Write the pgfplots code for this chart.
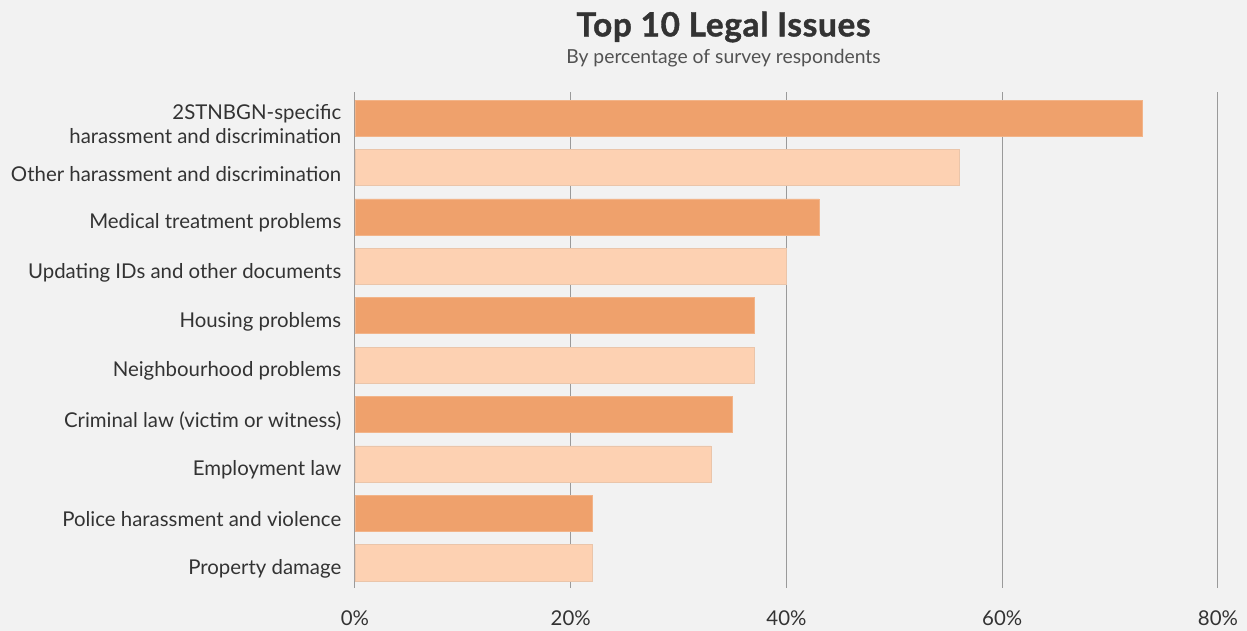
\documentclass[border=0pt]{standalone}
\usepackage{fontspec}
\setmainfont{Lato}
\newfontfamily\titlefont{Lato}[BoldFeatures={FakeBold=1.2}, LetterSpace=2]
\usepackage{pgfplots}
\pgfplotsset{compat=1.18}
\definecolor{bg}{HTML}{F2F2F2}
\definecolor{darkbar}{HTML}{EFA16C}
\definecolor{lightbar}{HTML}{FDD1B2}
\definecolor{txt}{HTML}{333333}
\definecolor{gridc}{HTML}{9A9A9A}
\newlength\px
\setlength\px{0.75pt}
\begin{document}
\begin{tikzpicture}
\fill[bg] (-355\px,-43\px) rectangle (892\px,588\px);
\begin{axis}[
  at={(0,0)}, anchor=south west,
  scale only axis,
  width=863\px, height=496\px,
  xmin=0, xmax=80,
  ymin=-0.53, ymax=9.51,
  y dir=reverse,
  axis line style={draw=none},
  xtick={0,20,40,60,80},
  xticklabels={0\%,20\%,40\%,60\%,80\%},
  ytick={0,...,9},
  yticklabels={{2STNBGN-specific\\harassment and discrimination},
    Other harassment and discrimination,
    Medical treatment problems,
    Updating IDs and other documents,
    Housing problems,
    Neighbourhood problems,
    Criminal law (victim or witness),
    Employment law,
    Police harassment and violence,
    Property damage},
  yticklabel style={align=right, font=\fontsize{15.3}{18}\selectfont, text=txt, xshift=-9\px, yshift=-6\px},
  xticklabel style={font=\fontsize{15.3}{17}\selectfont, text=txt, yshift=-18\px},
  major tick length=0pt,
  xmajorgrids,
  major grid style={gridc, line width=1\px},
  clip=false,
]
\addplot[xbar, bar shift=0pt, bar width=0.73, fill=darkbar, draw=darkbar!80!white, line width=0.5pt]
  coordinates {(73,0) (43,2) (37,4) (35,6) (22,8)};
\addplot[xbar, bar shift=0pt, bar width=0.73, fill=lightbar, draw=lightbar!85!gray, line width=0.5pt]
  coordinates {(56,1) (40,3) (37,5) (33,7) (22,9)};
\end{axis}
\node[text=txt, font=\titlefont\fontsize{25}{28}\selectfont\bfseries] at (368.5\px,561\px) {Top 10 Legal Issues};
\node[text=txt!85!white, font=\fontsize{14.5}{17}\selectfont] at (368.5\px,530\px) {By percentage of survey respondents};
\pgfresetboundingbox
\path[use as bounding box] (-355\px,-43\px) rectangle (892\px,588\px);
\end{tikzpicture}
\end{document}
